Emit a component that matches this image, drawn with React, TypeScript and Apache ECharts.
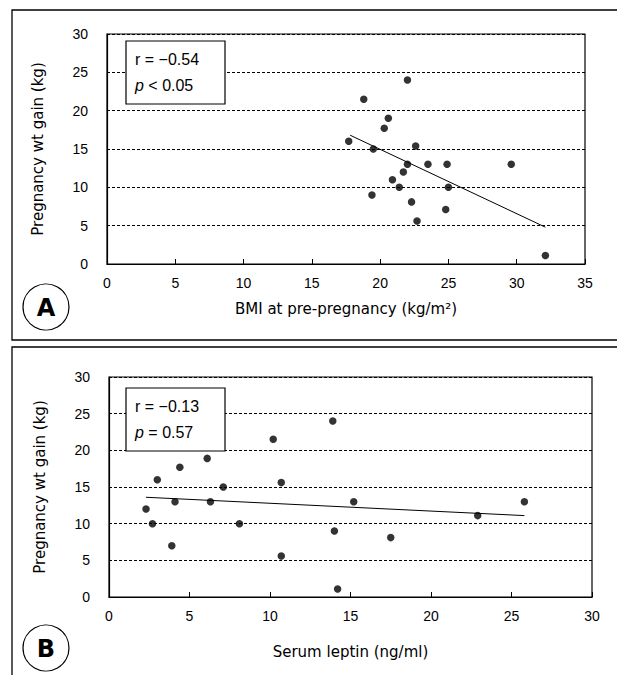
import React, { useEffect, useRef } from "react";
import * as echarts from "echarts";

// Panel A: BMI at pre-pregnancy vs pregnancy weight gain
const bmiValues = [17.7, 18.8, 19.5, 19.4, 20.3, 20.6, 22.0, 20.9, 21.4, 21.7, 22.0, 22.6, 22.3, 22.7, 23.5, 24.9, 24.8, 25.0, 29.6, 32.1];
const bmiGain = [16.0, 21.5, 15.0, 9.0, 17.7, 19.0, 24.0, 11.0, 10.0, 12.0, 13.0, 15.4, 8.1, 5.6, 13.0, 13.0, 7.1, 10.0, 13.0, 1.1];
const bmiFitX = [17.8, 32.1];
const bmiFitY = [16.8, 4.8];

// Panel B: serum leptin vs pregnancy weight gain
const leptinValues = [2.3, 2.7, 3.0, 3.9, 4.1, 4.4, 6.1, 6.3, 7.1, 8.1, 10.2, 10.7, 10.7, 13.9, 14.0, 14.2, 15.2, 17.5, 22.9, 25.8];
const leptinGain = [12.0, 10.0, 16.0, 7.0, 13.0, 17.7, 18.9, 13.0, 15.0, 10.0, 21.5, 15.6, 5.6, 24.0, 9.0, 1.1, 13.0, 8.1, 11.1, 13.0];
const leptinFitX = [2.3, 25.8];
const leptinFitY = [13.6, 11.1];

const xTicksA = { min: 0, max: 35, interval: 5 };
const xTicksB = { min: 0, max: 30, interval: 5 };
const yTicks = { min: 0, max: 30, interval: 5 };

const statsA = ["r = \u22120.54", "{i|p} < 0.05"];
const statsB = ["r = \u22120.13", "{i|p} = 0.57"];

const TICK_FONT = "'Liberation Sans', Arial, sans-serif";
const NAME_FONT = "'DejaVu Sans', sans-serif";

function xAxisCfg(grid: number, ticks: any, name: string, nameGap: number) {
  return {
    gridIndex: grid,
    type: "value",
    ...ticks,
    name,
    nameLocation: "middle",
    nameGap,
    nameMoveOverlap: false,
    nameTextStyle: { fontFamily: NAME_FONT, fontSize: 15, color: "#000" },
    axisLine: { show: true, onZero: false, lineStyle: { color: "#000", width: 1.2 } },
    axisTick: { show: true, inside: true, length: 5, lineStyle: { color: "#000", width: 1 } },
    axisLabel: { margin: 12, fontSize: 14, color: "#000", fontFamily: TICK_FONT, hideOverlap: false },
    splitLine: { show: false },
  };
}

function yAxisCfg(grid: number) {
  return {
    gridIndex: grid,
    type: "value",
    ...yTicks,
    name: "Pregnancy wt gain (kg)",
    nameLocation: "middle",
    nameGap: 62,
    nameMoveOverlap: false,
    nameTextStyle: { fontFamily: NAME_FONT, fontSize: 15, color: "#000" },
    axisLine: { show: true, onZero: false, lineStyle: { color: "#000", width: 1.2 } },
    axisTick: { show: false },
    axisLabel: { margin: 19, fontSize: 14, color: "#000", fontFamily: TICK_FONT, hideOverlap: false },
    splitLine: { show: true, lineStyle: { color: "#000", width: 1, type: [3, 2] } },
  };
}

function statBox(x: number, y: number, lines: string[]) {
  return {
    type: "group",
    children: [
      { type: "rect", shape: { x, y, width: 99, height: 63 }, style: { fill: "#fff", stroke: "#000", lineWidth: 1.2 }, z: 10 },
      { type: "text", x: x + 9, y: y + 18, z: 11, style: { text: lines[0], fontFamily: TICK_FONT, fontSize: 16, fill: "#000", verticalAlign: "middle" } },
      {
        type: "text", x: x + 9, y: y + 44, z: 11,
        style: {
          text: lines[1], fontFamily: TICK_FONT, fontSize: 16, fill: "#000", verticalAlign: "middle",
          rich: { i: { fontStyle: "italic", fontFamily: TICK_FONT, fontSize: 16, fill: "#000" } },
        },
      },
    ],
  };
}

function panelLabel(cx: number, cy: number, letter: string) {
  return {
    type: "group",
    children: [
      { type: "circle", shape: { cx, cy, r: 23 }, style: { fill: "#fff", stroke: "#000", lineWidth: 1.2 } },
      { type: "text", x: cx, y: cy + 1, style: { text: letter, fontFamily: "'DejaVu Sans', sans-serif", fontWeight: "bold", fontSize: 24, fill: "#000", align: "center", verticalAlign: "middle" } },
    ],
  };
}

export default function App() {
  const ref = useRef<HTMLDivElement>(null);
  useEffect(() => {
    if (!ref.current) return;
    const chart = echarts.init(ref.current, undefined, { renderer: "svg" });
    const pairs = (xs: number[], ys: number[]) => xs.map((v, i) => [v, ys[i]]);
    chart.setOption({
      animation: false,
      backgroundColor: "#fff",
      grid: [
        { left: 107, top: 34, width: 478, height: 230, show: true, borderColor: "#000", borderWidth: 1.2, containLabel: false, outerBoundsMode: "none" },
        { left: 109, top: 377, width: 483, height: 220, show: true, borderColor: "#000", borderWidth: 1.2, containLabel: false, outerBoundsMode: "none" },
      ],
      xAxis: [
        xAxisCfg(0, xTicksA, "BMI at pre-pregnancy (kg/m\u00b2)", 37),
        xAxisCfg(1, xTicksB, "Serum leptin (ng/ml)", 47),
      ],
      yAxis: [yAxisCfg(0), yAxisCfg(1)],
      series: [
        { type: "scatter", xAxisIndex: 0, yAxisIndex: 0, data: pairs(bmiValues, bmiGain), symbol: "circle", symbolSize: 7.5, itemStyle: { color: "#000" }, z: 5 },
        { type: "line", xAxisIndex: 0, yAxisIndex: 0, data: pairs(bmiFitX, bmiFitY), symbol: "none", lineStyle: { color: "#000", width: 1 }, z: 4 },
        { type: "scatter", xAxisIndex: 1, yAxisIndex: 1, data: pairs(leptinValues, leptinGain), symbol: "circle", symbolSize: 7.5, itemStyle: { color: "#000" }, z: 5 },
        { type: "line", xAxisIndex: 1, yAxisIndex: 1, data: pairs(leptinFitX, leptinFitY), symbol: "none", lineStyle: { color: "#000", width: 1 }, z: 4 },
      ],
      graphic: [
        { type: "rect", shape: { x: 12, y: 10, width: 700, height: 330 }, style: { fill: "none", stroke: "#000", lineWidth: 1.3 }, z: -1 },
        { type: "rect", shape: { x: 12, y: 347, width: 700, height: 400 }, style: { fill: "none", stroke: "#000", lineWidth: 1.3 }, z: -1 },
        statBox(126, 41, statsA),
        statBox(126, 388, statsB),
        panelLabel(46, 307, "A"),
        panelLabel(46, 648, "B"),
      ],
    });
    return () => chart.dispose();
  }, []);
  return <div ref={ref} style={{ position: "absolute", left: 0, top: 0, width: 617, height: 675 }} />;
}
